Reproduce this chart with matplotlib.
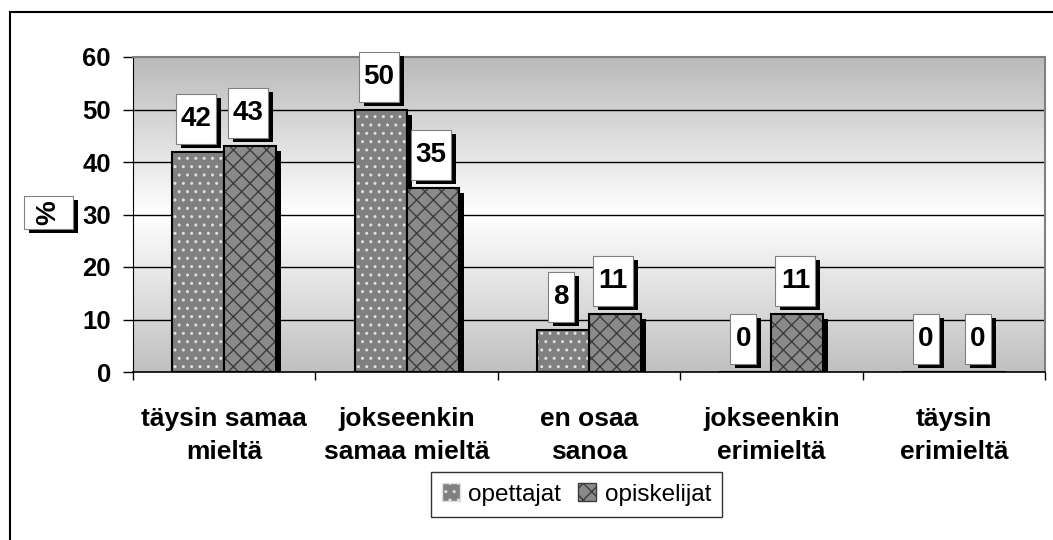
import numpy as np
import matplotlib
matplotlib.use("Agg")
import matplotlib.pyplot as plt
import matplotlib.transforms as mtransforms
from matplotlib.patches import Rectangle, Patch
from matplotlib.colors import LinearSegmentedColormap
from matplotlib.lines import Line2D

plt.rcParams['font.family'] = ['Liberation Sans', 'DejaVu Sans']
plt.rcParams['hatch.linewidth'] = 1.0

categories = ["täysin samaa\nmieltä", "jokseenkin\nsamaa mieltä", "en osaa\nsanoa",
              "jokseenkin\nerimieltä", "täysin\nerimieltä"]
opettajat = [42, 50, 8, 0, 0]
opiskelijat = [43, 35, 11, 11, 0]
series_names = ["opettajat", "opiskelijat"]
yticks = [0, 10, 20, 30, 40, 50, 60]

W, H = 1053, 540
fig = plt.figure(figsize=(W / 100, H / 100), dpi=100)
ax = fig.add_axes([133 / W, 1 - 372 / H, (1045 - 133) / W, (372 - 57) / H])

# gradient background of the plot area
cmap = LinearSegmentedColormap.from_list("bg", ["#bababa", "#ffffff", "#c0c0c0"])
grad = np.linspace(0, 1, 256).reshape(-1, 1)
ax.imshow(grad, extent=[0, 1, 0, 1], transform=ax.transAxes, aspect='auto',
          cmap=cmap, zorder=0, origin='upper')

x = np.arange(len(categories))
w = 0.285
shadow = ax.transData + mtransforms.ScaledTranslation(0.05, -0.05, fig.dpi_scale_trans)

styles = [dict(color="#808080", hatch="..", hcol="#e0e0e0"),
          dict(color="#8a8a8a", hatch="xx", hcol="#3c3c3c")]

for i, (vals, st) in enumerate(zip([opettajat, opiskelijat], styles)):
    xs = x - w / 2 + i * w
    for xc, v in zip(xs, vals):
        if v > 0:
            ax.add_patch(Rectangle((xc - w / 2, 0), w, v, facecolor="black",
                                   edgecolor="none", transform=shadow, zorder=2))
    ax.bar(xs, vals, w, color=st["color"], hatch=st["hatch"], edgecolor=st["hcol"],
           linewidth=0, zorder=3)
    ax.bar(xs, vals, w, fill=False, edgecolor="black", linewidth=1.5, zorder=4)

    # value labels in white boxes with black shadow
    for xc, v in zip(xs, vals):
        s = str(v)
        bw = 0.14 * len(s) + 0.12
        tr = fig.dpi_scale_trans + mtransforms.ScaledTranslation(xc, v, ax.transData)
        ax.add_patch(Rectangle((-bw / 2 + 0.03, 0.04), bw, 0.5, facecolor="black",
                               edgecolor="none", transform=tr, clip_on=False, zorder=5))
        ax.add_patch(Rectangle((-bw / 2 - 0.02, 0.08), bw, 0.5, facecolor="white",
                               edgecolor="#808080", linewidth=0.8, transform=tr,
                               clip_on=False, zorder=6))
        ax.text(-0.02, 0.33, s, transform=tr, ha="center", va="center",
                fontsize=20, fontweight="bold", zorder=7)

ax.set_xlim(-0.5, len(categories) - 0.5)
ax.set_ylim(0, 60)
ax.set_yticks(yticks)
ax.set_yticklabels([str(t) for t in yticks], fontsize=18.5, fontweight="bold")
ax.tick_params(axis='y', length=7, width=1, pad=9)
ax.set_xticks(x)
ax.set_xticklabels(categories, fontsize=19, fontweight="bold", linespacing=1.5)
ax.tick_params(axis='x', which='major', length=0, pad=25)
ax.set_xticks(np.arange(-0.5, len(categories)), minor=True)
ax.tick_params(axis='x', which='minor', length=6, width=1, direction='out')

for yv in yticks[1:-1]:
    ax.axhline(yv, color="black", linewidth=1, zorder=1)

ax.spines['left'].set_color("black")
ax.spines['bottom'].set_color("black")
ax.spines['bottom'].set_linewidth(1.2)
ax.spines['top'].set_color("#808080")
ax.spines['right'].set_color("#808080")
ax.spines['top'].set_linewidth(1.5)
ax.spines['right'].set_linewidth(1.5)

# y axis label "%" in a box with shadow
fig.add_artist(Rectangle(((24 + 5) / W, 1 - (229 + 4) / H), 49 / W, 33 / H,
                         transform=fig.transFigure, facecolor="black", edgecolor="none"))
fig.add_artist(Rectangle((24 / W, 1 - 229 / H), 49 / W, 33 / H, transform=fig.transFigure,
                         facecolor="white", edgecolor="#808080", linewidth=0.8))
fig.text(48.5 / W, 1 - 212.5 / H, "%", rotation=90, ha="center", va="center",
         fontsize=20, fontweight="bold")

# legend
handles = [Patch(facecolor=st["color"], hatch=st["hatch"], edgecolor=st["hcol"])
           for st in styles]
leg = fig.legend(handles, series_names, loc="center", bbox_to_anchor=(576.5 / W, 1 - 494.5 / H),
                 ncol=2, fontsize=17.5, frameon=True, fancybox=False, edgecolor="black",
                 handlelength=0.75, handleheight=0.75, handletextpad=0.35,
                 columnspacing=0.7, borderpad=0.45, borderaxespad=0)
leg.get_frame().set_linewidth(1)

# outer chart border (left and top visible)
fig.add_artist(Line2D([9.5 / W, 9.5 / W], [0, 1 - 12 / H], color="black", linewidth=1.5,
                      transform=fig.transFigure))
fig.add_artist(Line2D([9.5 / W, 1], [1 - 12 / H, 1 - 12 / H], color="black", linewidth=1.5,
                      transform=fig.transFigure))

fig.savefig("out.png", dpi=100)
